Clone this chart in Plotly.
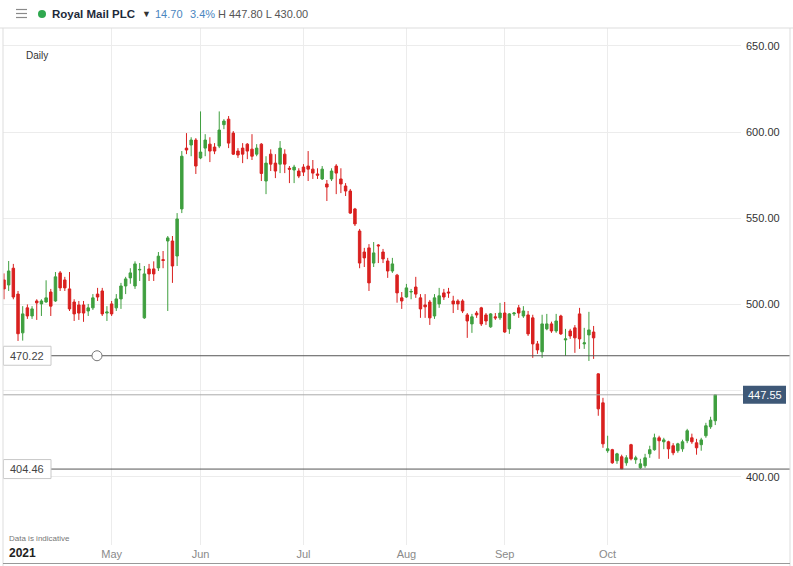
import pandas as pd
import plotly.graph_objects as go

# ---------------- data ----------------
holidays = ['2021-04-02', '2021-04-05', '2021-05-03', '2021-05-31', '2021-08-30']
dates = [d.strftime('%Y-%m-%d') for d in pd.bdate_range('2021-03-29', '2021-11-03')
         if d.strftime('%Y-%m-%d') not in holidays]

open_ = [514.2, 511.3, 521, 506, 483.5, 498, 493.3, 502, 500.3, 501.4,
         507.2, 502, 518.3, 514.2, 509, 501.4, 499.7, 499.7, 496.2, 498,
         506, 507.8, 495, 500.3, 498, 503.2, 510.7, 515.4, 510.7, 520,
         492.2, 520.6, 520.6, 521.2, 526, 536.8, 536.8, 528.1, 555.4, 590.7,
         592.5, 595.4, 585, 590.7, 593, 591.3, 591.9, 604.3, 607.5, 599.4,
         589, 590.7, 593, 590.1, 587.2, 593, 571.6, 587.2, 582, 581.4,
         587.2, 579, 578, 577.4, 579.7, 580.3, 578.5, 575.7, 572.8, 569.9,
         572.8, 580.3, 572.8, 568.7, 565.8, 555.4, 542.6, 530.4, 532.8, 524,
         534.5, 530.4, 525.2, 519.4, 517, 503.8, 504.3, 507.2, 510.1, 503.8,
         499.7, 501.4, 493.3, 500.3, 506.7, 507.2, 502, 502, 502, 493.9,
         488.7, 495, 498, 493.9, 487, 492.8, 492.2, 495, 485.8, 494.5,
         498, 493.3, 493.9, 492.2, 477.1, 472.5, 485.8, 488.7, 484.6, 493.3,
         479.4, 484.6, 486.4, 494.5, 477.1, 482.3, 484, 459.7, 442.9, 415.1,
         415.7, 409.3, 411.6, 408.1, 418.6, 409.9, 405.2, 406.4, 413.3, 415.7,
         422.6, 420.3, 420.3, 418, 415.1, 416.2, 420.9, 422.6, 419.7, 418.6,
         423.8, 429, 432.5]
high = [518, 525.2, 523.5, 507.8, 499, 500, 499, 503, 503, 514,
        509, 518.8, 519.4, 516, 518.8, 503, 502, 502, 500.3, 506,
        509.6, 509.6, 499, 502, 506, 512.5, 516, 521, 525, 524,
        522.3, 523.5, 525, 530.4, 531, 539.7, 539.7, 553, 589, 599.4,
        597, 596.5, 612, 598.8, 597, 593.6, 612, 607.5, 609.3, 600.6,
        590.7, 593.6, 593.6, 598.8, 593, 593.6, 586, 590, 587.2, 594.8,
        590, 580.3, 581, 579, 581.4, 589, 583.8, 579, 580.3, 572.2,
        579, 581.4, 579, 570.4, 567, 556, 543.8, 532.8, 535, 536.2,
        535, 532.2, 527, 527, 517.7, 507.2, 511.9, 509, 516, 506,
        506, 502.6, 506, 509.6, 509, 509.6, 505, 503, 503, 495,
        494.5, 496.2, 498.6, 495, 495, 495, 500.9, 501.4, 495, 495.6,
        499.7, 499, 496.2, 494, 478.8, 494, 494.5, 490, 494.5, 494,
        485.8, 485.8, 488, 498, 486.4, 495.7, 487.5, 460, 445.8, 423.8,
        416.2, 413.9, 412.8, 412.5, 419.1, 412.2, 410.4, 413.3, 418, 425,
        423.8, 422.6, 420.9, 419.5, 419.7, 421.5, 427.8, 425, 422, 422.6,
        431.3, 434.8, 447.8]
low = [503, 507.8, 503, 478.8, 479, 491.6, 491.6, 491, 493.3, 501,
       493.3, 501.5, 507.8, 507.8, 496.2, 490.4, 491, 489.9, 493.3, 496.8,
       502, 493.3, 490.4, 493.3, 496.2, 497.4, 506, 512, 509, 513.6,
       491.6, 513.6, 513.6, 519.4, 521, 496.2, 512.5, 522.3, 553, 587.2,
       586, 575.7, 584.3, 586, 582.6, 587.2, 590.7, 601.7, 590.7, 586.7,
       585, 582, 584.3, 583.8, 586, 571.6, 564, 577.4, 573.3, 576.2,
       576.2, 570.4, 570.4, 573.3, 574.5, 571.6, 572.8, 572.8, 572.2, 560,
       571.6, 564, 564.6, 562.9, 552.5, 545.5, 521, 521.7, 507.8, 521.7,
       524, 524, 515.4, 518.3, 501, 497.4, 503.8, 503, 503.8, 492.2,
       492.2, 488.1, 491.6, 498, 502.6, 503.8, 495, 496.8, 495, 480.6,
       483.5, 492.2, 487.5, 488.1, 486.4, 491, 491, 483.5, 482.9, 493.3,
       492.2, 492.2, 481.7, 469, 471.3, 469, 485, 483.5, 483.5, 482.3,
       470.1, 480, 471.9, 474.2, 474.2, 467.2, 468.4, 435.4, 416.8, 413.9,
       407.5, 407.5, 404.46, 406.4, 409.5, 407.5, 404.6, 405.2, 411, 415.1,
       410.4, 416, 410.4, 412.5, 413.9, 414.5, 419.5, 419.1, 412.8, 415.1,
       422.6, 427.8, 430]
close = [509, 519.4, 504.3, 483, 494.5, 493.3, 497.4, 500.9, 502, 503.8,
         499, 516, 509.6, 509.6, 497.4, 494.5, 495, 495, 498, 503.8,
         504.3, 494.5, 495.6, 494.5, 503.2, 510.7, 514.8, 518.3, 523.5, 520.3,
         517.7, 517.7, 517.7, 528, 525.5, 538.6, 522.3, 549.6, 586, 589.6,
         595.4, 580.3, 588.4, 595.4, 589, 589, 601.2, 606.4, 593.6, 587.2,
         586.7, 587.2, 589, 586, 590.7, 576, 582, 581.4, 577.4, 590.7,
         581.4, 578.5, 579.7, 574.5, 576.8, 578.5, 576.2, 575, 578.5, 568.1,
         577.4, 576.2, 569.9, 565.8, 553, 546.7, 524, 527, 512.5, 529.9,
         534, 526.4, 519.4, 523.5, 506.7, 502, 509.6, 507.5, 506, 497.4,
         498.6, 492.2, 503.8, 505, 504.3, 506.7, 500.3, 500.3, 496.2, 490.4,
         492.8, 493.9, 488.7, 490.4, 494.5, 492.2, 495, 484, 494.5, 495,
         495, 496.2, 482.9, 477.1, 473.6, 488.7, 488.7, 484.6, 490.4, 482.9,
         480, 481.7, 480.6, 480, 477.7, 485.2, 480.6, 439.4, 419.1, 416.2,
         408.1, 413.3, 404.6, 411, 410.4, 411, 407.5, 411, 415.7, 422.6,
         420.9, 421.4, 416.2, 413.9, 419.1, 420.3, 426.7, 420.3, 416.8, 421.4,
         429.6, 432.85, 447.55]

month_tick_dates = ['2021-05-04', '2021-06-01', '2021-07-01', '2021-08-02', '2021-09-01', '2021-10-01']
month_tick_labels = ['May', 'Jun', 'Jul', 'Aug', 'Sep', 'Oct']
price_ticks = [400, 450, 500, 550, 600, 650]
price_tick_labels = ['400.00', '', '500.00', '550.00', '600.00', '650.00']

level_high = 470.22
level_low = 404.46
last_price = 447.55

# ---------------- layout geometry ----------------
FONT = 'Liberation Sans, Arial, sans-serif'
W, H = 793, 566
L, R, T, B = 3, 741, 28, 545
YMIN, YMAX = 360.4, 660.4


def px(x):
    return (x - L) / (R - L)


def py(y):
    return (B - y) / (B - T)


def vy(v):
    # pixel y of a price value
    return B - (v - YMIN) / (YMAX - YMIN) * (B - T)


GREEN = '#3f9f3f'
RED = '#d9201f'

fig = go.Figure(go.Candlestick(
    x=dates, open=open_, high=high, low=low, close=close,
    increasing=dict(fillcolor=GREEN, line=dict(color=GREEN, width=1)),
    decreasing=dict(fillcolor=RED, line=dict(color=RED, width=1)),
    whiskerwidth=0, showlegend=False, hoverinfo='skip'))

shapes = []
annotations = []

# horizontal level lines
for lvl in (level_high, level_low):
    shapes.append(dict(type='line', xref='paper', yref='y', x0=px(51), x1=px(790),
                       y0=lvl, y1=lvl, line=dict(color='#555555', width=1)))
    c = vy(lvl)
    shapes.append(dict(type='rect', xref='paper', yref='paper', x0=px(3.5), x1=px(51),
                       y0=py(c + 9.5), y1=py(c - 9.5),
                       line=dict(color='#c8c8c8', width=1), fillcolor='white'))
    annotations.append(dict(text=f'{lvl:.2f}', xref='paper', yref='paper', x=px(27), y=py(c),
                            xanchor='center', yanchor='middle', showarrow=False,
                            font=dict(family=FONT, size=11, color='#444444')))

# circle handle on upper level
c = vy(level_high)
shapes.append(dict(type='circle', xref='paper', yref='paper', x0=px(92), x1=px(102),
                   y0=py(c + 5), y1=py(c - 5), line=dict(color='#777777', width=1),
                   fillcolor='white'))

# last price line and badge
shapes.append(dict(type='line', xref='paper', yref='y', x0=0, x1=px(743),
                   y0=last_price, y1=last_price, line=dict(color='#aaaaaa', width=1)))
c = vy(last_price)
shapes.append(dict(type='rect', xref='paper', yref='paper', x0=px(743), x1=px(786),
                   y0=py(c + 9), y1=py(c - 9), line=dict(width=0), fillcolor='#3e5877'))
annotations.append(dict(text=f'{last_price:.2f}', xref='paper', yref='paper', x=px(764.5), y=py(c),
                        xanchor='center', yanchor='middle', showarrow=False,
                        font=dict(family=FONT, size=11, color='white')))

# frame lines
shapes.append(dict(type='line', xref='paper', yref='paper', x0=px(0), x1=px(793),
                   y0=py(28), y1=py(28), line=dict(color='#dddddd', width=1)))
shapes.append(dict(type='line', xref='paper', yref='paper', x0=px(3), x1=px(3),
                   y0=py(28), y1=py(566), line=dict(color='#dddddd', width=1)))
shapes.append(dict(type='line', xref='paper', yref='paper', x0=px(790), x1=px(790),
                   y0=py(28), y1=py(566), line=dict(color='#dddddd', width=1)))
shapes.append(dict(type='line', xref='paper', yref='paper', x0=px(3), x1=px(790),
                   y0=py(563.5), y1=py(563.5), line=dict(color='#999999', width=1)))

# hamburger icon
for yy in (9.5, 13.5, 17.5):
    shapes.append(dict(type='line', xref='paper', yref='paper', x0=px(16), x1=px(27),
                       y0=py(yy), y1=py(yy), line=dict(color='#8a8a8a', width=1.2)))
# green status dot
shapes.append(dict(type='circle', xref='paper', yref='paper', x0=px(38), x1=px(46),
                   y0=py(18), y1=py(10), line=dict(width=0), fillcolor='#2fa84f'))


def txt(t, x, y, size, color, anchor='left', bold=False):
    annotations.append(dict(text=f'<b>{t}</b>' if bold else t, xref='paper', yref='paper',
                            x=px(x), y=py(y), xanchor=anchor, yanchor='middle',
                            showarrow=False, font=dict(family=FONT, size=size, color=color)))


txt('Royal Mail PLC', 50, 14, 11.5, '#1e2a3a', bold=True)
txt('▼', 140, 14, 9, '#333333')
txt('14.70', 153, 14, 11, '#4a86c0')
txt('3.4%', 188, 14, 11, '#4a86c0')
txt('H 447.80 L 430.00', 216, 14, 11, '#555555')
txt('Daily', 24, 55, 10, '#333333')
txt('Data is indicative', 7, 538, 8, '#777777')
txt('2021', 7, 553, 12, '#222222', bold=True)

fig.update_layout(
    width=W, height=H, autosize=False,
    margin=dict(l=L, r=W - R, t=T, b=H - B),
    paper_bgcolor='white', plot_bgcolor='white',
    shapes=shapes, annotations=annotations,
    boxgap=0.25,
    xaxis=dict(type='category', range=[-0.21, 157.5], rangeslider=dict(visible=False),
               tickvals=month_tick_dates, ticktext=month_tick_labels,
               showgrid=True, gridcolor='#ececec', gridwidth=1, zeroline=False,
               showline=False, ticks='', tickfont=dict(family=FONT, size=11, color='#8a8a8a'),
               ticklabelstandoff=1),
    yaxis=dict(side='right', range=[YMIN, YMAX], tickvals=price_ticks, ticktext=price_tick_labels,
               showgrid=True, gridcolor='#ececec', gridwidth=1, zeroline=False,
               showline=False, ticks='', tickfont=dict(family=FONT, size=11, color='#333333'),
               ticklabelstandoff=4),
    font=dict(family=FONT),
)

fig.write_html('out.html', config={'displayModeBar': False},
               post_script="document.body.style.margin='0';")
